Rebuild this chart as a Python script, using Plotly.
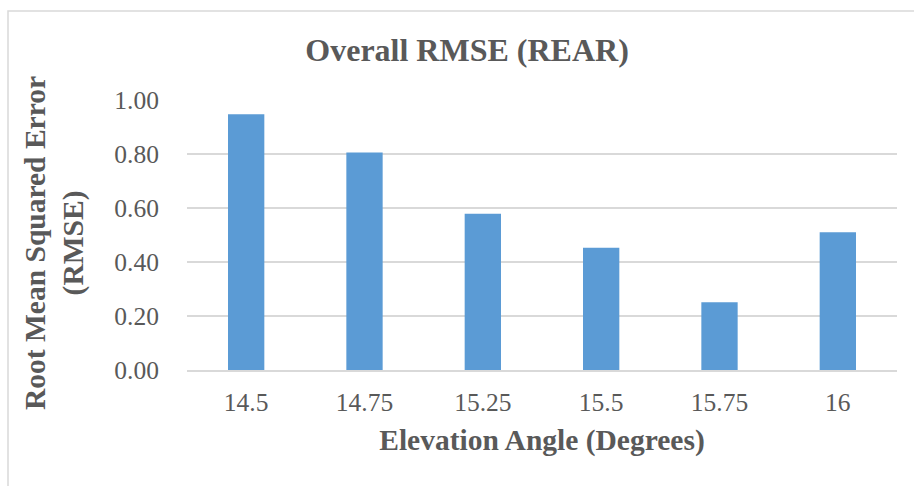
import plotly.graph_objects as go

categories = ["14.5", "14.75", "15.25", "15.5", "15.75", "16"]
rmse_values = [0.947, 0.806, 0.579, 0.453, 0.251, 0.510]
y_tick_values = [0.0, 0.2, 0.4, 0.6, 0.8, 1.0]
y_tick_labels = ["0.00", "0.20", "0.40", "0.60", "0.80", "1.00"]

FONT = "Liberation Serif, Times New Roman, serif"
TEXT = "#595959"
GRID = "#D9D9D9"

fig = go.Figure(
    go.Bar(
        x=categories,
        y=rmse_values,
        marker=dict(color="#5B9BD5", line=dict(width=0)),
        width=0.307,
    )
)

fig.update_layout(
    width=914,
    height=486,
    margin=dict(l=187, r=17, t=100, b=116),
    paper_bgcolor="white",
    plot_bgcolor="white",
    showlegend=False,
    font=dict(family=FONT, color=TEXT, size=25),
    title=dict(
        text="<b>Overall RMSE (REAR)</b>",
        font=dict(family=FONT, size=32, color=TEXT),
        x=0.511,
        xref="container",
        xanchor="center",
        y=0.897,
        yref="container",
        yanchor="middle",
    ),
    xaxis=dict(
        type="category",
        showgrid=False,
        showline=True,
        linecolor=GRID,
        linewidth=1.5,
        ticks="outside",
        ticklen=9,
        tickcolor="rgba(0,0,0,0)",
        tickfont=dict(family=FONT, size=25.5, color=TEXT),
        title=dict(
            text="<b>Elevation Angle (Degrees)</b>",
            font=dict(family=FONT, size=29.5, color=TEXT),
            standoff=13,
        ),
    ),
    yaxis=dict(
        range=[0, 1.0],
        tickvals=y_tick_values,
        ticktext=y_tick_labels,
        showgrid=True,
        gridcolor=GRID,
        gridwidth=1.5,
        zeroline=False,
        showline=False,
        ticks="outside",
        ticklen=22,
        tickcolor="rgba(0,0,0,0)",
        tickfont=dict(family=FONT, size=25.5, color=TEXT),
    ),
    annotations=[
        dict(
            text="<b>Root Mean Squared Error<br>(RMSE)</b>",
            font=dict(family=FONT, size=29.5, color=TEXT),
            textangle=-90,
            xref="paper",
            yref="paper",
            x=(54 - 187) / 710,
            y=(370 - 243) / 270,
            xanchor="center",
            yanchor="middle",
            showarrow=False,
        )
    ],
    shapes=[
        dict(
            type="rect",
            xref="paper",
            yref="paper",
            x0=(8 - 187) / 710,
            x1=(930 - 187) / 710,
            y0=(370 - 500) / 270,
            y1=(370 - 11) / 270,
            line=dict(color=GRID, width=1.5),
            fillcolor="rgba(0,0,0,0)",
            layer="below",
        )
    ],
)

fig.write_html("out.html")
